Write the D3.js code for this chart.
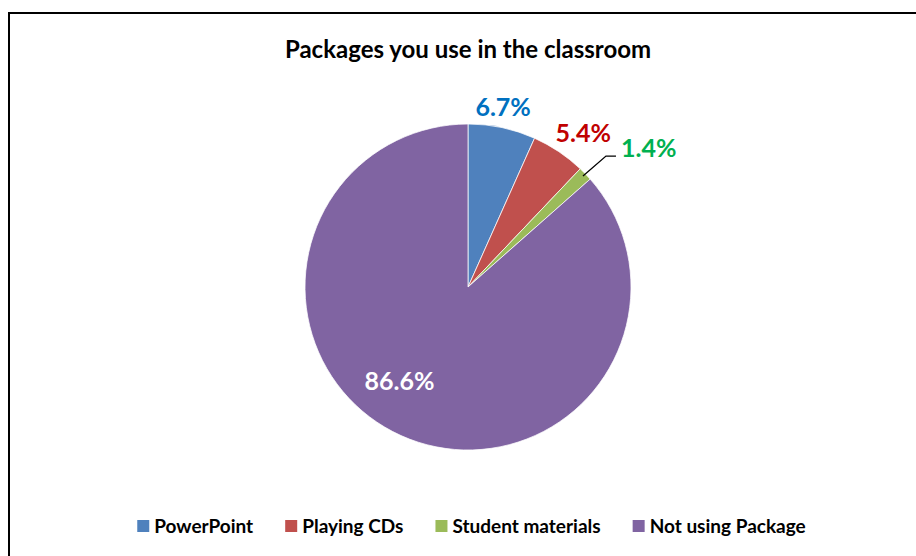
<!DOCTYPE html>
<html lang="en">
<head>
<meta charset="UTF-8">
<title>Packages you use in the classroom</title>
<script src="https://d3js.org/d3.v7.min.js"></script>
<style>
    body {
        margin: 0;
        background: #fff;
        font-family: Lato, 'Open Sans', Arial, sans-serif;
    }
    svg { display: block; }
</style>
</head>
<body>
<div id="chart"></div>
<script>
    const categories = ["PowerPoint", "Playing CDs", "Student materials", "Not using Package"];
    const values = [6.7, 5.4, 1.4, 86.6];
    const sliceColors = ["#4F81BD", "#C0504D", "#9BBB59", "#8064A2"];
    const labelColors = ["#0070C0", "#C00000", "#00B050", "#FFFFFF"];

    const width = 916, height = 556;
    const cx = 468, cy = 287, radius = 163;

    const svg = d3.select("#chart").append("svg")
        .attr("width", width)
        .attr("height", height);

    // chart frame (only left/top edges visible in the crop)
    svg.append("rect")
        .attr("x", 9).attr("y", 13)
        .attr("width", 930).attr("height", 560)
        .attr("fill", "none")
        .attr("stroke", "#000")
        .attr("stroke-width", 2);

    svg.append("text")
        .attr("x", 468).attr("y", 58)
        .attr("text-anchor", "middle")
        .attr("font-size", 24)
        .attr("font-weight", "bold")
        .attr("fill", "#000")
        .text("Packages you use in the classroom");

    const pie = d3.pie().sort(null).value(d => d)(values);
    const arc = d3.arc().innerRadius(0).outerRadius(radius);

    const g = svg.append("g").attr("transform", `translate(${cx},${cy})`);

    g.selectAll("path")
        .data(pie)
        .enter()
        .append("path")
        .attr("d", arc)
        .attr("fill", (d, i) => sliceColors[i])
        .attr("stroke", "#fff")
        .attr("stroke-width", 0.75);

    // label positions (outside for small slices, inside for the big one)
    const labelPos = [
        { r: 1.15, dx: -4, dy: 4 },
        { r: 1.15, dx: 11, dy: 2 },
        null,
        { r: 0.62, dx: -27, dy: 2 }
    ];
    const fmt = v => v.toFixed(1) + "%";
    const labelSize = 25;

    pie.forEach((d, i) => {
        const mid = (d.startAngle + d.endAngle) / 2;
        if (i === 2) {
            // leader line for the thin slice
            const p0 = [Math.sin(mid) * radius * 0.98, -Math.cos(mid) * radius * 0.98];
            const p1 = [p0[0] + 23, p0[1] - 20];
            const p2 = [p1[0] + 10, p1[1]];
            g.append("polyline")
                .attr("points", [p0, p1, p2].map(p => p.join(",")).join(" "))
                .attr("fill", "none")
                .attr("stroke", "#000")
                .attr("stroke-width", 1.3);
            g.append("text")
                .attr("x", p2[0] + 5).attr("y", p2[1] - 8)
                .attr("dy", "0.35em")
                .attr("font-size", labelSize)
                .attr("font-weight", "bold")
                .attr("fill", labelColors[i])
                .text(fmt(values[i]));
            return;
        }
        const r = radius * labelPos[i].r;
        const x = Math.sin(mid) * r + labelPos[i].dx;
        const y = -Math.cos(mid) * r + labelPos[i].dy;
        g.append("text")
            .attr("x", x).attr("y", y)
            .attr("dy", "0.35em")
            .attr("text-anchor", "middle")
            .attr("font-size", labelSize)
            .attr("font-weight", "bold")
            .attr("fill", labelColors[i])
            .text(fmt(values[i]));
    });

    // legend
    const legend = svg.append("g");
    const items = legend.selectAll("g")
        .data(categories)
        .enter()
        .append("g");
    items.append("rect")
        .attr("width", 12).attr("height", 12)
        .attr("y", -6)
        .attr("fill", (d, i) => sliceColors[i]);
    items.append("text")
        .attr("x", 17)
        .attr("dy", "0.35em")
        .attr("font-size", 19)
        .attr("font-weight", "bold")
        .attr("fill", "#000")
        .text(d => d);

    let xPos = 0;
    const gap = 32;
    items.each(function () {
        const w = 17 + d3.select(this).select("text").node().getComputedTextLength();
        d3.select(this).attr("transform", `translate(${xPos},0)`);
        xPos += w + gap;
    });
    const total = xPos - gap;
    legend.attr("transform", `translate(${471.5 - total / 2},526)`);
</script>
</body>
</html>
